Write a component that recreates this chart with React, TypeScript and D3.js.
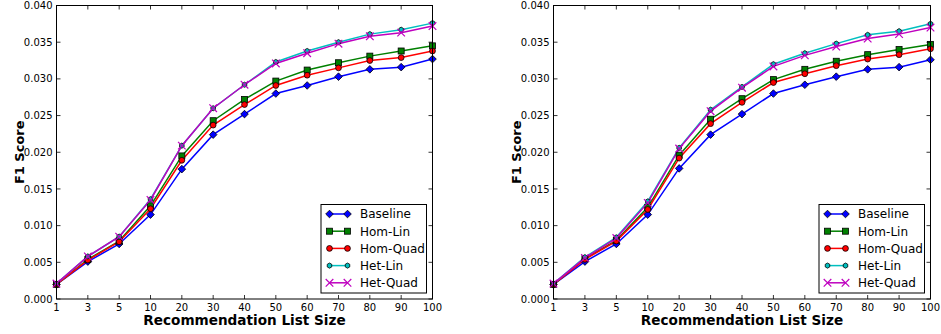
import React from "react";
import * as d3 from "d3";

const categories = ["1", "3", "5", "10", "20", "30", "40", "50", "60", "70", "80", "90", "100"];
const yTicks = [0, 0.005, 0.01, 0.015, 0.02, 0.025, 0.03, 0.035, 0.04];
const seriesNames = ["Baseline", "Hom-Lin", "Hom-Quad", "Het-Lin", "Het-Quad"];

// Left panel
const leftBaseline = [0.002, 0.0051, 0.0075, 0.0115, 0.0177, 0.0224, 0.0252, 0.028, 0.0291, 0.0303, 0.0313, 0.0316, 0.0327];
const leftHomLin = [0.002, 0.0054, 0.0079, 0.0127, 0.0195, 0.0243, 0.0272, 0.0297, 0.0312, 0.0322, 0.0331, 0.0338, 0.0345];
const leftHomQuad = [0.002, 0.0053, 0.0078, 0.0123, 0.0189, 0.0237, 0.0265, 0.0291, 0.0305, 0.0315, 0.0325, 0.0329, 0.0338];
const leftHetLin = [0.0021, 0.0058, 0.0085, 0.0136, 0.0209, 0.026, 0.0292, 0.0323, 0.0338, 0.035, 0.0361, 0.0367, 0.0376];
const leftHetQuad = [0.0021, 0.0058, 0.0085, 0.0135, 0.0209, 0.026, 0.0292, 0.0321, 0.0335, 0.0348, 0.0358, 0.0363, 0.0372];

// Right panel
const rightBaseline = [0.002, 0.0051, 0.0075, 0.0115, 0.0178, 0.0224, 0.0252, 0.028, 0.0292, 0.0303, 0.0313, 0.0316, 0.0326];
const rightHomLin = [0.002, 0.0055, 0.008, 0.0125, 0.0196, 0.0245, 0.0273, 0.0299, 0.0313, 0.0324, 0.0333, 0.034, 0.0347];
const rightHomQuad = [0.002, 0.0054, 0.0079, 0.0122, 0.0192, 0.0239, 0.0268, 0.0295, 0.0307, 0.0318, 0.0327, 0.0333, 0.0341];
const rightHetLin = [0.0021, 0.0057, 0.0084, 0.0133, 0.0206, 0.0258, 0.0289, 0.032, 0.0335, 0.0348, 0.036, 0.0365, 0.0375];
const rightHetQuad = [0.0021, 0.0056, 0.0083, 0.0131, 0.0205, 0.0256, 0.0288, 0.0317, 0.0332, 0.0344, 0.0355, 0.0361, 0.037];

const colors = ["#0000ff", "#008000", "#ff0000", "#00bfbf", "#bf00bf"];
const markers = ["diamond", "square", "circle", "hex", "x"];

const FONT = "DejaVu Sans, sans-serif";

function Marker({ type, x, y, color }: { type: string; x: number; y: number; color: string }) {
  const sw = 0.8;
  if (type === "diamond") {
    const r = 3.8;
    return <path d={`M${x},${y - r}L${x + r},${y}L${x},${y + r}L${x - r},${y}Z`} fill={color} stroke="#000" strokeWidth={sw} />;
  }
  if (type === "square") {
    const r = 3;
    return <rect x={x - r} y={y - r} width={2 * r} height={2 * r} fill={color} stroke="#000" strokeWidth={sw} />;
  }
  if (type === "circle") {
    return <circle cx={x} cy={y} r={2.9} fill={color} stroke="#000" strokeWidth={sw} />;
  }
  if (type === "hex") {
    const r = 2.6;
    const pts = d3.range(6).map((i) => {
      const a = (Math.PI / 3) * i + Math.PI / 6;
      return `${x + r * Math.cos(a)},${y + r * Math.sin(a)}`;
    });
    return <polygon points={pts.join(" ")} fill={color} stroke="#000" strokeWidth={sw} />;
  }
  const r = 3.8;
  return (
    <path d={`M${x - r},${y - r}L${x + r},${y + r}M${x - r},${y + r}L${x + r},${y - r}`} stroke={color} strokeWidth={1.2} fill="none" />
  );
}

function Panel({ x0, x1, y0, y1, data }: { x0: number; x1: number; y0: number; y1: number; data: number[][] }) {
  const x = d3.scalePoint<string>().domain(categories).range([x0, x1]);
  const y = d3.scaleLinear().domain([0, 0.04]).range([y1, y0]);
  const line = d3
    .line<number>()
    .x((_, i) => x(categories[i]) as number)
    .y((d) => y(d));
  const tl = 4;
  const lgX0 = x1 - 111.5;
  const lgY0 = y1 - 94.5;
  return (
    <g>
      {data.map((s, si) => (
        <path key={"l" + si} d={line(s) || ""} fill="none" stroke={colors[si]} strokeWidth={1.5} />
      ))}
      {data.map((s, si) => (
        <g key={"m" + si}>
          {s.map((v, i) => (
            <Marker key={i} type={markers[si]} x={x(categories[i]) as number} y={y(v)} color={colors[si]} />
          ))}
        </g>
      ))}
      <rect x={x0} y={y0} width={x1 - x0} height={y1 - y0} fill="none" stroke="#000" strokeWidth={1} />
      {categories.map((c) => {
        const px = x(c) as number;
        return (
          <g key={"xt" + c}>
            <line x1={px} x2={px} y1={y1} y2={y1 - tl} stroke="#000" strokeWidth={0.8} />
            <line x1={px} x2={px} y1={y0} y2={y0 + tl} stroke="#000" strokeWidth={0.8} />
            <text x={px} y={y1 + 12} textAnchor="middle" fontSize={10} fontFamily={FONT} fill="#000">
              {c}
            </text>
          </g>
        );
      })}
      {yTicks.map((t) => {
        const py = y(t);
        return (
          <g key={"yt" + t}>
            <line x1={x0} x2={x0 + tl} y1={py} y2={py} stroke="#000" strokeWidth={0.8} />
            <line x1={x1} x2={x1 - tl} y1={py} y2={py} stroke="#000" strokeWidth={0.8} />
            <text x={x0 - 4} y={py + 3.6} textAnchor="end" fontSize={10} fontFamily={FONT} fill="#000">
              {d3.format(".3f")(t)}
            </text>
          </g>
        );
      })}
      <text x={(x0 + x1) / 2} y={y1 + 26} textAnchor="middle" fontSize={13.6} fontWeight="bold" fontFamily={FONT} fill="#000">
        Recommendation List Size
      </text>
      <text
        transform={`translate(${x0 - 33},${(y0 + y1) / 2}) rotate(-90)`}
        textAnchor="middle"
        fontSize={13}
        fontWeight="bold"
        fontFamily={FONT}
        fill="#000"
      >
        F1 Score
      </text>
      <g>
        <rect x={lgX0} y={lgY0} width={105.5} height={88.5} fill="#fff" stroke="#000" strokeWidth={1} />
        {seriesNames.map((n, i) => {
          const ly = lgY0 + 9.5 + i * 17.2;
          const lx1 = lgX0 + 8.5;
          const lx2 = lgX0 + 26.5;
          return (
            <g key={"lg" + n}>
              <line x1={lx1} x2={lx2} y1={ly} y2={ly} stroke={colors[i]} strokeWidth={1.5} />
              <Marker type={markers[i]} x={lx1} y={ly} color={colors[i]} />
              <Marker type={markers[i]} x={lx2} y={ly} color={colors[i]} />
              <text x={lgX0 + 39} y={ly + 4.3} fontSize={12} fontFamily={FONT} fill="#000">
                {n}
              </text>
            </g>
          );
        })}
      </g>
    </g>
  );
}

export default function App() {
  const left = [leftBaseline, leftHomLin, leftHomQuad, leftHetLin, leftHetQuad];
  const right = [rightBaseline, rightHomLin, rightHomQuad, rightHetLin, rightHetQuad];
  return (
    <div style={{ position: "absolute", left: 0, top: 0 }}>
      <svg width={941} height={334} style={{ display: "block", background: "#fff" }}>
        <Panel x0={56.5} x1={432.5} y0={5.5} y1={299} data={left} />
        <Panel x0={553.5} x1={930.5} y0={5.5} y1={299} data={right} />
      </svg>
    </div>
  );
}
